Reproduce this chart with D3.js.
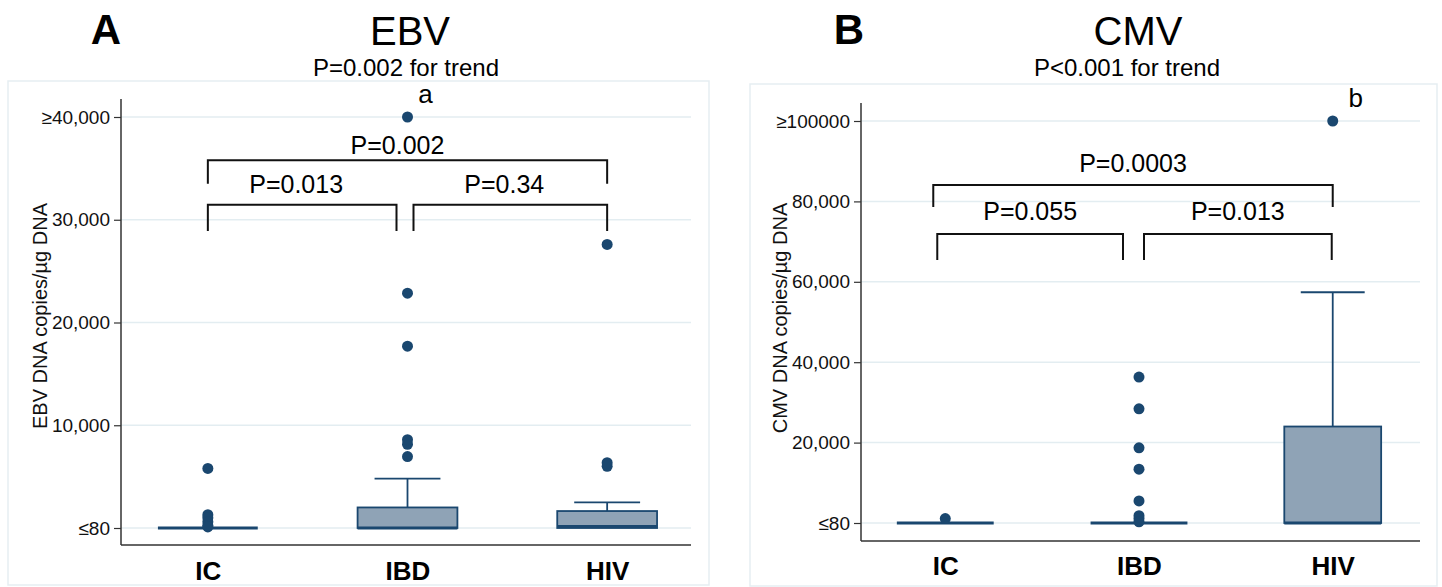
<!DOCTYPE html>
<html>
<head>
<meta charset="utf-8">
<script src="https://cdn.jsdelivr.net/npm/d3@7"></script>
<style>
  body { margin: 0; background: #fff; }
  text { font-family: Arial, "Liberation Sans", sans-serif; }
</style>
</head>
<body>
<svg id="chart" width="1442" height="587"></svg>
<script>
var groups = ["IC", "IBD", "HIV"];

// EBV (panel A)
var ebvQ1 = [0, 0, 0];
var ebvMedian = [0, 0, 150];
var ebvQ3 = [0, 2000, 1650];
var ebvWhiskerHi = [0, 4800, 2500];
var ebvOutliers = [
    [5800, 1300, 1000, 600, 250, 100],
    [6950, 8150, 8600, 17700, 22850, 40000],
    [6000, 6350, 27600]
];
var ebvTicks = [0, 10000, 20000, 30000, 40000];
var ebvTickLabels = ["≤80", "10,000", "20,000", "30,000", "≥40,000"];
var ebvPairs = [[0, 2], [0, 1], [1, 2]];
var ebvPLabels = ["P=0.002", "P=0.013", "P=0.34"];

// CMV (panel B)
var cmvQ1 = [0, 0, 0];
var cmvMedian = [0, 0, 0];
var cmvQ3 = [0, 0, 24000];
var cmvWhiskerHi = [0, 0, 57400];
var cmvOutliers = [
    [1100],
    [36300, 28400, 18700, 13400, 5500, 1800, 1100, 300],
    [100000]
];
var cmvTicks = [0, 20000, 40000, 60000, 80000, 100000];
var cmvTickLabels = ["≤80", "20,000", "40,000", "60,000", "80,000", "≥100000"];
var cmvPairs = [[0, 2], [0, 1], [1, 2]];
var cmvPLabels = ["P=0.0003", "P=0.055", "P=0.013"];

var navy = "#1a476f";
var boxFill = "#8fa3b6";
var gridCol = "#e3edf1";

var svg = d3.select("#chart");

function addText(g, x, y, str, size, anchor, weight) {
    return g.append("text")
        .attr("x", x).attr("y", y)
        .attr("text-anchor", anchor || "middle")
        .attr("font-size", size)
        .attr("font-weight", weight || "normal")
        .attr("fill", "#000")
        .text(str);
}

function drawPanel(p) {
    var g = svg.append("g");

    // 外框
    g.append("rect")
        .attr("x", p.frame[0]).attr("y", p.frame[1])
        .attr("width", p.frame[2] - p.frame[0])
        .attr("height", p.frame[3] - p.frame[1])
        .attr("fill", "none")
        .attr("stroke", "#e6eef2")
        .attr("stroke-width", 1.5);

    var y = d3.scaleLinear().domain([0, p.yMax]).range([p.y0, p.yTop]);
    var x = d3.scalePoint().domain(groups).range([p.left, p.xEnd]).padding(0.435);
    var bw = x.step() * 0.5;

    // 网格线
    g.selectAll(".grid").data(p.ticks).enter().append("line")
        .attr("x1", p.left).attr("x2", p.right)
        .attr("y1", function (d) { return y(d); })
        .attr("y2", function (d) { return y(d); })
        .attr("stroke", gridCol)
        .attr("stroke-width", 1.5);

    // y 轴
    var yAxis = d3.axisLeft(y)
        .tickValues(p.ticks)
        .tickFormat(function (d, i) { return p.tickLabels[i]; })
        .tickSize(7)
        .tickPadding(4);
    var ya = g.append("g")
        .attr("transform", "translate(" + p.left + ",0)")
        .call(yAxis);
    ya.select(".domain").remove();
    ya.selectAll("line").attr("stroke", "#333").attr("stroke-width", 1.2);
    ya.selectAll("text").attr("font-size", 19).attr("fill", "#111");

    g.append("line")
        .attr("x1", p.left).attr("x2", p.left)
        .attr("y1", p.axisTop).attr("y2", p.axisBottom)
        .attr("stroke", "#333").attr("stroke-width", 1.5);
    g.append("line")
        .attr("x1", p.left).attr("x2", p.right)
        .attr("y1", p.axisBottom).attr("y2", p.axisBottom)
        .attr("stroke", "#333").attr("stroke-width", 1.5);

    // x 轴标签
    var xa = g.append("g")
        .attr("transform", "translate(0," + p.axisBottom + ")")
        .call(d3.axisBottom(x).tickSize(0));
    xa.select(".domain").remove();
    xa.selectAll("text")
        .attr("y", p.labelY - p.axisBottom).attr("dy", 0)
        .attr("font-size", 26).attr("font-weight", "bold").attr("fill", "#000");

    // y 轴标题
    g.append("text")
        .attr("transform", "translate(" + p.yTitleX + "," + p.yTitleY + ") rotate(-90)")
        .attr("text-anchor", "middle")
        .attr("font-size", 20)
        .attr("fill", "#111")
        .text(p.yTitle);

    // 箱线
    groups.forEach(function (grp, i) {
        var cx = x(grp);
        if (p.whiskerHi[i] > p.q3[i]) {
            g.append("line")
                .attr("x1", cx).attr("x2", cx)
                .attr("y1", y(p.q3[i])).attr("y2", y(p.whiskerHi[i]))
                .attr("stroke", navy).attr("stroke-width", 1.8);
            g.append("line")
                .attr("x1", cx - bw * 0.33).attr("x2", cx + bw * 0.33)
                .attr("y1", y(p.whiskerHi[i])).attr("y2", y(p.whiskerHi[i]))
                .attr("stroke", navy).attr("stroke-width", 1.8);
        }
        if (p.q3[i] > p.q1[i]) {
            g.append("rect")
                .attr("x", cx - bw / 2).attr("y", y(p.q3[i]))
                .attr("width", bw).attr("height", y(p.q1[i]) - y(p.q3[i]))
                .attr("fill", boxFill)
                .attr("stroke", navy).attr("stroke-width", 1.8);
        }
        g.append("line")
            .attr("x1", cx - bw / 2).attr("x2", cx + bw / 2)
            .attr("y1", y(p.median[i])).attr("y2", y(p.median[i]))
            .attr("stroke", navy).attr("stroke-width", 3);

        g.selectAll(null).data(p.outliers[i]).enter().append("circle")
            .attr("cx", cx)
            .attr("cy", function (d) { return y(d); })
            .attr("r", 5.5)
            .attr("fill", navy);
    });

    // 显著性括号
    p.pairs.forEach(function (pr, k) {
        var lv = p.levels[k];
        var xl = x(groups[pr[0]]) + p.legs[k][0];
        var xr = x(groups[pr[1]]) + p.legs[k][1];
        g.append("path")
            .attr("d", "M" + xl + "," + y(lv[1]) + "V" + y(lv[0]) + "H" + xr + "V" + y(lv[1]))
            .attr("fill", "none")
            .attr("stroke", "#111")
            .attr("stroke-width", 2);
        addText(g, (xl + xr) / 2 + p.textDx[k], y(lv[0]) - p.textGap[k], p.pLabels[k], 25);
    });

    // 标题
    addText(g, p.letterX, 44, p.letter, 42, "middle", "bold");
    addText(g, p.titleX, 45, p.title, 40);
    addText(g, p.subX, 76, p.sub, 24);
    addText(g, x(groups[p.markIdx]) + p.markDx, p.markY, p.mark, 26);
}

drawPanel({
    frame: [8, 81, 709, 585],
    left: 121, right: 691, xEnd: 694,
    axisTop: 99, axisBottom: 545,
    y0: 528, yTop: 117, yMax: 40000,
    labelY: 580,
    ticks: ebvTicks, tickLabels: ebvTickLabels,
    yTitle: "EBV DNA copies/µg DNA", yTitleX: 47, yTitleY: 316,
    q1: ebvQ1, median: ebvMedian, q3: ebvQ3, whiskerHi: ebvWhiskerHi, outliers: ebvOutliers,
    pairs: ebvPairs, pLabels: ebvPLabels,
    levels: [[35800, 33500], [31450, 28900], [31450, 28900]],
    legs: [[0, 0], [0, -11], [6, 0]],
    textDx: [-10, -6, -6],
    textGap: [6, 12, 12],
    letter: "A", letterX: 106,
    title: "EBV", titleX: 410,
    sub: "P=0.002 for trend", subX: 406,
    mark: "a", markIdx: 1, markDx: 18, markY: 103
});

drawPanel({
    frame: [750, 84, 1437, 586],
    left: 861, right: 1420, xEnd: 1417,
    axisTop: 103, axisBottom: 541,
    y0: 523, yTop: 121, yMax: 100000,
    labelY: 575,
    ticks: cmvTicks, tickLabels: cmvTickLabels,
    yTitle: "CMV DNA copies/µg DNA", yTitleX: 787, yTitleY: 318,
    q1: cmvQ1, median: cmvMedian, q3: cmvQ3, whiskerHi: cmvWhiskerHi, outliers: cmvOutliers,
    pairs: cmvPairs, pLabels: cmvPLabels,
    levels: [[84100, 78600], [71900, 65400], [71900, 65400]],
    legs: [[-12, 0], [-8, -16], [5, -1]],
    textDx: [0, 0, 0],
    textGap: [13, 14, 14],
    letter: "B", letterX: 849,
    title: "CMV", titleX: 1138,
    sub: "P<0.001 for trend", subX: 1127,
    mark: "b", markIdx: 2, markDx: 23, markY: 107
});
</script>
</body>
</html>
